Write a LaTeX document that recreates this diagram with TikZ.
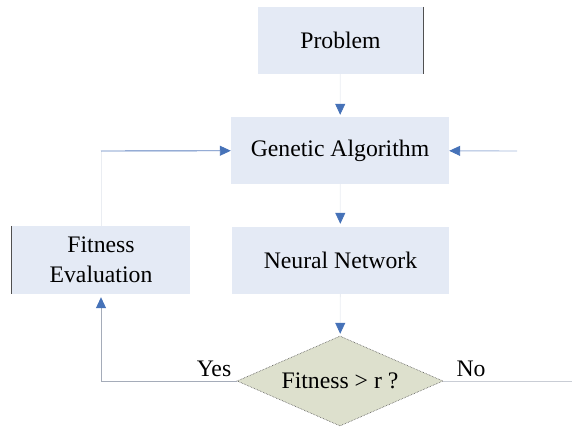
\documentclass[tikz,border=0pt]{standalone}
\usepackage{fontspec}
\setmainfont{Liberation Serif}
\usetikzlibrary{shapes.geometric,arrows.meta}
\definecolor{boxfill}{RGB}{228,234,245}
\definecolor{diafill}{RGB}{221,224,205}
\definecolor{tipblue}{RGB}{70,114,184}
\definecolor{lineblue}{RGB}{92,128,190}
\definecolor{faintgray}{RGB}{234,237,242}
\definecolor{midgray}{RGB}{165,172,185}
\definecolor{edgegray}{RGB}{80,80,80}
\tikzset{
  x=1pt, y=-1pt,
  box/.style={fill=boxfill, draw=none, inner sep=0pt, align=center,
    font=\fontsize{23.7}{30}\selectfont},
  decision/.style={diamond, aspect=2.29, fill=diafill, draw=edgegray,
    densely dotted, line width=0.6pt, inner sep=0pt, minimum width=206pt,
    minimum height=90pt, font=\fontsize{23.7}{28}\selectfont},
  lbl/.style={font=\fontsize{23.7}{28}\selectfont, inner sep=0pt},
  arr/.style={-{Triangle[length=11pt,width=10pt,color=tipblue]}},
  faintline/.style={draw=faintgray, line width=0.8pt},
  blueline/.style={draw=lineblue, line width=0.9pt},
  lightblueline/.style={draw=lineblue!55, line width=0.9pt},
  grayline/.style={draw=midgray, line width=0.9pt},
  lightgrayline/.style={draw=midgray!60, line width=0.9pt},
  edgeline/.style={draw=edgegray, line width=0.9pt}
}
\begin{document}
\begin{tikzpicture}
\useasboundingbox (0,0) rectangle (574,431);
\node[box, minimum width=165pt, minimum height=67pt] (prob) at (340.5,40.5) {Problem};
\node[box, minimum width=218pt, minimum height=67pt] (ga) at (340,150.5) {Genetic Algorithm};
\node[box, minimum width=217pt, minimum height=67pt] (nn) at (340.5,260.5) {Neural Network};
\node[box, minimum width=178pt, minimum height=68pt] (fit) at (101,260) {Fitness\\Evaluation};
\node[decision] (dia) at (340,381) {Fitness > r ?};
\draw[edgeline] (prob.north east) -- (prob.south east);
\draw[edgeline] (fit.north west) -- (fit.south west);
\coordinate (c1) at (101,151);
\coordinate (rin) at (517,151);
\coordinate (rout) at (572,381);
\node[lbl] (yes) at (214,369) {Yes};
\node[lbl] (no) at (471,369) {No};
\draw[faintline, arr, shorten >=2pt] (prob) -- (ga);
\draw[faintline, arr, shorten >=3pt] (ga) -- (nn);
\draw[faintline, arr, shorten >=2pt] (nn) -- (dia);
\draw[faintline] (fit) -- (c1);
\draw[blueline, arr] (c1) -- (ga);
\draw[lightblueline, arr] (rin) -- (ga);
\draw[grayline, arr, shorten >=3pt] (dia.west) -| (fit.south);
\draw[lightgrayline] (dia.east) -- (rout);
\end{tikzpicture}
\end{document}
